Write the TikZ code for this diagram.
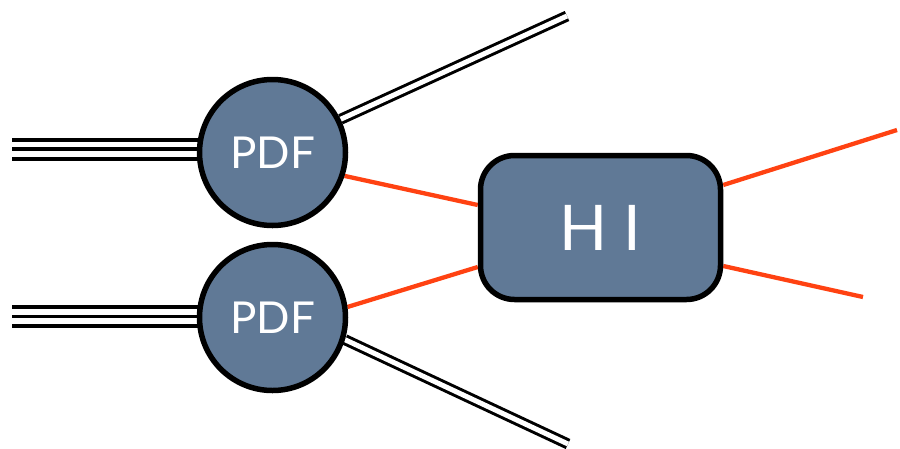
\documentclass[tikz,border=0pt]{standalone}
\usepackage{fontspec}
\setmainfont{Lato}
\usetikzlibrary{calc}
\pgfdeclarelayer{background}
\pgfsetlayers{background,main}
\definecolor{nodefill}{RGB}{96,121,150}
\definecolor{redline}{RGB}{255,66,18}
\tikzset{
  pdfnode/.style={circle, draw=black, line width=5.5pt, fill=nodefill, minimum size=146pt, inner sep=0pt, text=white, font=\fontsize{44}{50}\selectfont},
  hibox/.style={rectangle, rounded corners=34pt, draw=black, line width=5.5pt, fill=nodefill, minimum width=240pt, minimum height=144pt, inner sep=0pt, text=white, font=\fontsize{63}{70}\selectfont},
  triple/.style={line width=3.3pt, black},
  dbl/.style={draw=black, line width=3pt, double=white, double distance=5pt},
  redcon/.style={line width=4.3pt, redline}
}
\begin{document}
\begin{tikzpicture}[x=1pt,y=-1pt]
\useasboundingbox (0,0) rectangle (900,448);
\node[pdfnode] (p1) at (272.5,152.5) {PDF};
\node[pdfnode] (p2) at (272.5,317.5) {PDF};
\node[hibox] (hi) at (600.5,227.5) {H I};
% free ends
\coordinate (t1a) at (12,140);
\coordinate (t1b) at (12,149);
\coordinate (t1c) at (12,159);
\coordinate (t2a) at (12,307);
\coordinate (t2b) at (12,316.5);
\coordinate (t2c) at (12,326);
\coordinate (d1) at (567,16);
\coordinate (d2) at (568,444);
\coordinate (r1) at (897,130);
\coordinate (r2) at (863,297);
\begin{pgfonlayer}{background}
  \draw[triple] (t1a) -- (t1a -| p1);
  \draw[triple] (t1b) -- (t1b -| p1);
  \draw[triple] (t1c) -- (t1c -| p1);
  \draw[triple] (t2a) -- (t2a -| p2);
  \draw[triple] (t2b) -- (t2b -| p2);
  \draw[triple] (t2c) -- (t2c -| p2);
  \draw[dbl] (p1.26) -- (d1);
  \draw[dbl] (p2.-17) -- (d2);
  \draw[redcon] (p1.-18) -- ($(hi.west)+(0,-22.5)$);
  \draw[redcon] (p2.8) -- ($(hi.west)+(0,39.5)$);
  \draw[redcon] ($(hi.east)+(0,-42.5)$) -- (r1);
  \draw[redcon] ($(hi.east)+(0,38.5)$) -- (r2);
\end{pgfonlayer}
\end{tikzpicture}
\end{document}
